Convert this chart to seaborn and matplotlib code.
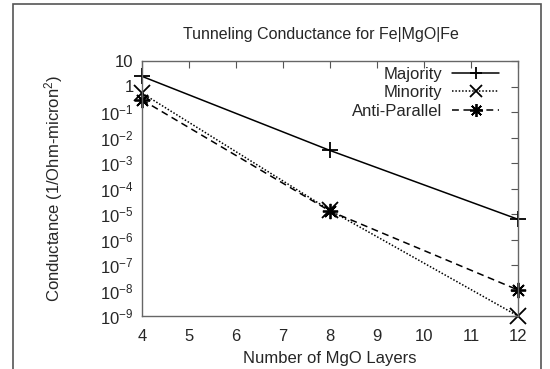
import matplotlib
matplotlib.use("Agg")
import matplotlib.pyplot as plt
import seaborn as sns
import numpy as np
from matplotlib.patches import Rectangle

# data
layers = [4, 8, 12]
majority = [2.5, 3.1e-3, 6.2e-6]
minority = [0.55, 1.4e-5, 1.0e-9]
anti_parallel = [0.3, 1.3e-5, 1.05e-8]

series_names = ["Majority", "Minority", "Anti-Parallel"]
ytick_vals = [1e-9, 1e-8, 1e-7, 1e-6, 1e-5, 1e-4, 1e-3, 1e-2, 1e-1, 1, 10]
ytick_labels = ["10$^{-9}$", "10$^{-8}$", "10$^{-7}$", "10$^{-6}$", "10$^{-5}$",
                "10$^{-4}$", "10$^{-3}$", "10$^{-2}$", "10$^{-1}$", "1", "10"]
xtick_vals = [4, 5, 6, 7, 8, 9, 10, 11, 12]

sns.set_theme(style="white")
plt.rcParams['font.family'] = ['Liberation Sans', 'DejaVu Sans']
plt.rcParams['mathtext.fontset'] = 'custom'
plt.rcParams['mathtext.rm'] = 'Liberation Sans'
plt.rcParams['mathtext.default'] = 'regular'

fig = plt.figure(figsize=(5.5, 3.69), dpi=100)
ax = fig.add_axes([142/550, 1-316/369, (518-142)/550, (316-61)/369])

styles = [
    dict(linestyle='-', marker='+'),
    dict(linestyle=(0, (1, 1.2)), marker='x'),
    dict(linestyle=(0, (4.5, 3)), marker=(8, 2, 0)),
]
for name, vals, st in zip(series_names, [majority, minority, anti_parallel], styles):
    sns.lineplot(x=layers, y=vals, ax=ax, color='black', linewidth=1.1,
                 markersize=11, markeredgewidth=1.3, markeredgecolor='black',
                 label=name, clip_on=False, **st)

ax.set_yscale('log')
ax.set_ylim(1e-9, 10)
ax.set_xlim(4, 12)
ax.set_yticks(ytick_vals)
ax.set_yticklabels(ytick_labels)
ax.set_xticks(xtick_vals)
ax.minorticks_off()
ax.tick_params(direction='in', length=5, width=0.8, color='#555555',
               top=True, right=True, labelsize=12)
ax.tick_params(axis='x', pad=9.5)
ax.tick_params(axis='y', pad=6)
for sp in ax.spines.values():
    sp.set_color('#666666')
    sp.set_linewidth(1.0)

fig.text(321/550, 1-35/369, "Tunneling Conductance for Fe|MgO|Fe",
         fontsize=11.5, ha='center', va='center')
ax.set_xlabel("Number of MgO Layers", fontsize=12, labelpad=5)
ax.set_ylabel("Conductance (1/Ohm-micron$^2$)", fontsize=12, labelpad=25)

ax.legend(loc='upper right', bbox_to_anchor=((499-142)/376, 1-(67-61)/255),
          frameon=False, markerfirst=False, fontsize=12,
          handlelength=2.8, handletextpad=0.6, labelspacing=0.2,
          borderaxespad=0, borderpad=0, markerscale=0.85)

# grey frame round the figure
fig.patches.append(Rectangle((13/550, -0.2), (541-13)/550, 1.2 - 4/369,
                             transform=fig.transFigure, fill=False,
                             edgecolor='#555555', linewidth=1.2))

fig.savefig("out.png", dpi=100)
